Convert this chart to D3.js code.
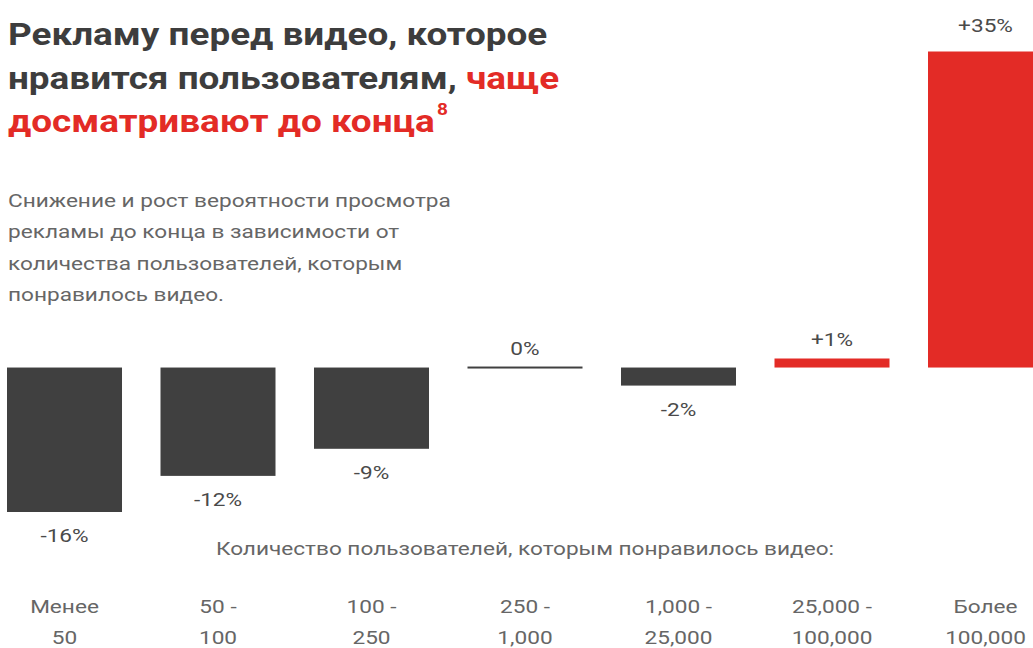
<!DOCTYPE html>
<html>
<head>
<meta charset="utf-8">
<script src="https://cdn.jsdelivr.net/npm/d3@7"></script>
<style>
  html, body { margin: 0; padding: 0; background: #ffffff; }
  svg { display: block; font-family: Roboto, "Noto Sans", sans-serif; }
</style>
</head>
<body>
<svg id="chart" width="1033" height="648"></svg>
<script>
// ---- data ----
const categoriesLine1 = ["Менее", "50 -", "100 -", "250 -", "1,000 -", "25,000 -", "Более"];
const categoriesLine2 = ["50", "100", "250", "1,000", "25,000", "100,000", "100,000"];
const values = [-16, -12, -9, 0, -2, 1, 35];
const titleLines = [
  [{t: "Рекламу перед видео, которое", red: false}],
  [{t: "нравится пользователям, ", red: false}, {t: "чаще", red: true}],
  [{t: "досматривают до конца", red: true}]
];
const titleNote = "8";
const subtitleLines = [
  "Снижение и рост вероятности просмотра",
  "рекламы до конца в зависимости от",
  "количества пользователей, которым",
  "понравилось видео."
];
const axisTitle = "Количество пользователей, которым понравилось видео:";

// ---- styles ----
const DARK = "#404040";
const RED = "#e32b26";
const TITLE_COLOR = "#3d3d3d";
const GRAY = "#666666";
const LABEL_COLOR = "#4a4a4a";
const SX = 1.19; // horizontal stretch of the lettering

const svg = d3.select("#chart");
const keys = d3.range(values.length);

const x = d3.scaleBand()
  .domain(keys)
  .range([7, 1043])
  .paddingInner(0.2508)
  .paddingOuter(0);

const y = d3.scaleLinear()
  .domain([-16, 35])
  .range([512, 51.5]);

const place = (px, py) => `translate(${px},${py}) scale(${SX},1)`;

// ---- title ----
const title = svg.append("g").attr("transform", place(8, 0))
  .append("text")
  .attr("font-size", 31)
  .attr("font-weight", 700)
  .attr("letter-spacing", 0);
titleLines.forEach((line, i) => {
  line.forEach((seg, j) => {
    const ts = title.append("tspan")
      .attr("fill", seg.red ? RED : TITLE_COLOR)
      .text(seg.t);
    if (j === 0) ts.attr("x", 0).attr("y", 45.5 + i * 43.5);
  });
});
title.append("tspan")
  .attr("fill", RED)
  .attr("font-size", 16)
  .attr("dx", 2)
  .attr("dy", -17.5)
  .text(titleNote);

// ---- subtitle ----
svg.append("g").selectAll("text")
  .data(subtitleLines)
  .join("text")
  .attr("transform", (d, i) => place(8, 206.5 + i * 31.5))
  .attr("font-size", 19)
  .attr("fill", GRAY)
  .text(d => d);

// ---- bars ----
const fmt = v => (v > 0 ? "+" : "") + v + "%";
svg.append("g").selectAll("rect")
  .data(values)
  .join("rect")
  .attr("x", (d, i) => x(i))
  .attr("width", x.bandwidth())
  .attr("y", d => d === 0 ? y(0) - 1 : Math.min(y(d), y(0)))
  .attr("height", d => d === 0 ? 2 : Math.abs(y(d) - y(0)))
  .attr("fill", d => d > 0 ? RED : DARK);

// ---- value labels ----
const vmax = d3.max(values);
svg.append("g").selectAll("text")
  .data(values)
  .join("text")
  .attr("transform", (d, i) => place(
    x(i) + x.bandwidth() / 2,
    d < 0 ? y(d) + 30 : (d === vmax ? y(d) - 19.5 : y(d) - 12.5)))
  .attr("text-anchor", "middle")
  .attr("font-size", 19)
  .attr("fill", LABEL_COLOR)
  .text(fmt);

// ---- axis title ----
svg.append("text")
  .attr("transform", place(525, 555))
  .attr("text-anchor", "middle")
  .attr("font-size", 19)
  .attr("fill", GRAY)
  .text(axisTitle);

// ---- category labels via axis ----
const axis = d3.axisBottom(x).tickSize(0).tickFormat(i => categoriesLine1[i]);
const ag = svg.append("g")
  .attr("transform", "translate(0,598)")
  .call(axis);
ag.select(".domain").remove();
ag.selectAll(".tick text").each(function(i) {
  const t = d3.select(this);
  t.text(null)
    .attr("y", 0)
    .attr("dy", null)
    .attr("transform", `scale(${SX},1)`)
    .attr("font-size", 19)
    .attr("font-family", "Roboto, 'Noto Sans', sans-serif")
    .attr("fill", GRAY);
  t.append("tspan").attr("x", 0).attr("y", 15).text(categoriesLine1[i]);
  t.append("tspan").attr("x", 0).attr("y", 46).text(categoriesLine2[i]);
});
</script>
</body>
</html>
